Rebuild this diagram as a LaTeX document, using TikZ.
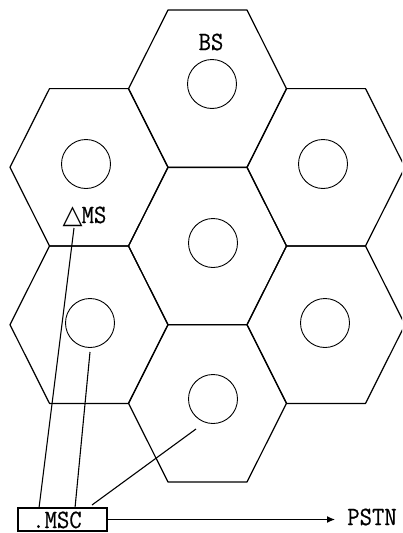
\documentclass[tikz,border=0pt]{standalone}
\usepackage{fontspec}
\setmonofont{Latin Modern Mono}[FakeBold=0.6]
\newfontfamily\symfont{DejaVu Sans}
\usetikzlibrary{arrows.meta}
\begin{document}
\begin{tikzpicture}[x=1pt,y=-1pt,
  cell/.style={line width=1.2pt, line join=round},
  bsc/.style={circle, draw, line width=0.9pt, minimum size=49pt, inner sep=0pt},
  lbl/.style={inner sep=0pt, font=\ttfamily\fontsize{24}{24}\selectfont},
  link/.style={line width=1.1pt},
  boxst/.style={draw, line width=1.1pt, minimum width=89pt, minimum height=23pt, inner sep=0pt}]
\useasboundingbox (0,0) rectangle (402,533);
\begin{scope}
\clip (0,0) rectangle (402,533);
\foreach \cx/\cy in {89/167.3, 89/324.7, 207.5/88.7, 207.5/246, 207.5/403.3, 326/167.3, 326/324.7}{
  \draw[cell] (\cx-79,\cy) -- (\cx-39.5,\cy-78.7) -- (\cx+39.5,\cy-78.7) -- (\cx+79,\cy)
     -- (\cx+39.5,\cy+78.7) -- (\cx-39.5,\cy+78.7) -- cycle;
}
\end{scope}
% base station circles
\node[bsc] (cT)  at (212,84)  {};
\node[bsc] (cUL) at (86,164)  {};
\node[bsc] (cUR) at (323,164) {};
\node[bsc] (cC)  at (213,243) {};
\node[bsc] (cLL) at (90,323)  {};
\node[bsc] (cLR) at (325,323) {};
\node[bsc] (cB)  at (213,399) {};
% labels
\node[lbl] (bs) at (211,42) {\scalebox{1}[1.1]{BS}};
\node[lbl, anchor=base] (ms) at (84.5,223) {{\symfont\fontsize{26}{26}\selectfont △}\kern-1pt\scalebox{1}[1.1]{MS}};
\node[boxst] (msc) at (62.5,519.5) {};
\node[lbl, anchor=base] (msct) at (57,528) {\scalebox{1}[1.1]{.MSC}};
\node[lbl] (pstn) at (372,517) {\scalebox{1}[1.1]{PSTN}};
% connectors
\coordinate (a1) at (74,228);
\coordinate (a2) at (39,508);
\coordinate (b1) at (90,352);
\coordinate (b2) at (75,508);
\coordinate (d1) at (92,505);
\coordinate (d2) at (196,429);
\coordinate (tip) at (335,519.5);
\draw[link] (a1) -- (a2);
\draw[link] (b1) -- (b2);
\draw[link] (d1) -- (d2);
\draw[link, -{Latex[length=8pt,width=7pt]}] (msc.east) -- (tip);
\end{tikzpicture}
\end{document}
